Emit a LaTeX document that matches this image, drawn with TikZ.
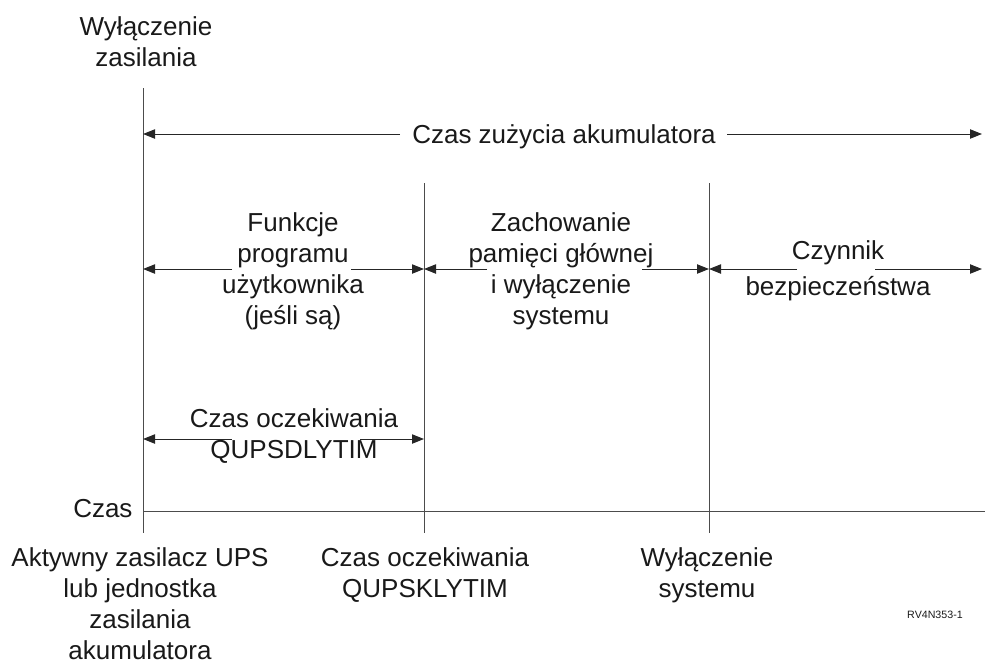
\documentclass[tikz,border=0pt]{standalone}
\usepackage{fontspec}
\setmainfont{Liberation Sans}
\usetikzlibrary{arrows.meta}

\tikzset{every picture/.style={line width=0.75pt}}
\tikzset{
  txt/.style={inner sep=0pt, align=center, text=black!90, font=\fontsize{19.5}{23.25}\selectfont},
  dimline/.style={draw=black!85, -{Triangle[length=9pt,width=7pt]}},
  mark line/.style={draw=black!70}
}

\begin{document}
\begin{tikzpicture}[x=0.75pt,y=0.75pt,yscale=-1,xscale=1]
	\useasboundingbox (0,0) rectangle (985,664);

	%Vertical Lines
	\coordinate (off top) at (143,88);
	\coordinate (off bot) at (143,533);
	\coordinate (dly top) at (424,183);
	\coordinate (dly bot) at (424,533);
	\coordinate (sys top) at (709,183);
	\coordinate (sys bot) at (709,533);
	\coordinate (end) at (982,0);
	\draw [mark line] (off top) -- (off bot) ;
	\draw [mark line] (dly top) -- (dly bot) ;
	\draw [mark line] (sys top) -- (sys bot) ;
	%Time Axis
	\coordinate (axis end) at (985,511);
	\draw [mark line] (off bot |- axis end) -- (axis end) ;

	% Text Node
	\node [txt, anchor=north] (pwroff) at (146,16) {Wyłączenie\\zasilania};
	% Text Node
	\node [txt, anchor=base] (battery) at (564,143) {Czas zużycia akumulatora};
	% Text Node
	\node [txt, anchor=north] (userfn) at (293,212) {Funkcje\\programu\\użytkownika\\(jeśli są)};
	% Text Node
	\node [txt, anchor=north] (savemem) at (561,212) {Zachowanie\\pamięci głównej\\i wyłączenie\\systemu};
	% Text Node
	\node [txt, anchor=north, font=\fontsize{19.5}{27}\selectfont] (safety) at (838,240) {Czynnik\\bezpieczeństwa};
	% Text Node
	\node [txt, anchor=north] (dlytim) at (294,408) {Czas oczekiwania\\QUPSDLYTIM};
	% Text Node
	\node [txt, anchor=base east] (time) at (133,517) {Czas};
	% Text Node
	\node [txt, anchor=north] (upson) at (140,547) {Aktywny zasilacz UPS\\lub jednostka\\zasilania\\akumulatora};
	% Text Node
	\node [txt, anchor=north] (klytim) at (425,547) {Czas oczekiwania\\QUPSKLYTIM};
	% Text Node
	\node [txt, anchor=north] (sysoff) at (707,547) {Wyłączenie\\systemu};
	% Text Node
	\node [inner sep=0pt, anchor=base, text=black!90, font=\fontsize{8}{10}\selectfont] (figid) at (935,618) {RV4N353-1};

	%Arrows: battery time
	\coordinate (bat l) at (400,134);
	\coordinate (bat r) at (727,134);
	\draw [dimline] (bat l) -- (off top |- bat l) ;
	\draw [dimline] (bat r) -- (end |- bat r) ;

	%Arrows: user functions
	\coordinate (fn l) at (232,269);
	\coordinate (fn r) at (351,269);
	\draw [dimline] (fn l) -- (off top |- fn l) ;
	\draw [dimline] (fn r) -- (dly top |- fn r) ;

	%Arrows: save main storage
	\coordinate (mem l) at (487,269);
	\coordinate (mem r) at (642,269);
	\draw [dimline] (mem l) -- (dly top |- mem l) ;
	\draw [dimline] (mem r) -- (sys top |- mem r) ;

	%Arrows: safety factor
	\coordinate (sf l) at (797,269);
	\coordinate (sf r) at (875,269);
	\draw [dimline] (sf l) -- (sys top |- sf l) ;
	\draw [dimline] (sf r) -- (end |- sf r) ;

	%Arrows: delay time
	\coordinate (dl l) at (232,439);
	\coordinate (dl r) at (360,439);
	\draw [dimline] (dl l) -- (off top |- dl l) ;
	\draw [dimline] (dl r) -- (dly top |- dl r) ;

\end{tikzpicture}
\end{document}
